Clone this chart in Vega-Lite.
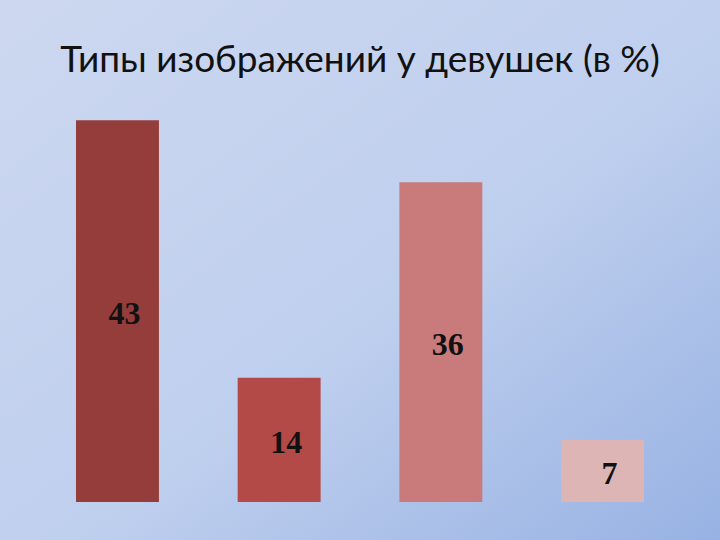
{
  "$schema": "https://vega.github.io/schema/vega-lite/v6.json",
  "width": 720,
  "height": 540,
  "autosize": "none",
  "padding": 0,
  "background": "#c9d5ee",
  "title": {
    "text": "Типы изображений у девушек (в %)",
    "font": "Lato",
    "fontSize": 37,
    "fontWeight": "normal",
    "color": "#111111",
    "anchor": "middle",
    "offset": -80
  },
  "data": {
    "values": [
      {"type": "1", "value": 43},
      {"type": "2", "value": 14},
      {"type": "3", "value": 36},
      {"type": "4", "value": 7}
    ]
  },
  "encoding": {
    "x": {
      "field": "type",
      "type": "nominal",
      "sort": null,
      "axis": null,
      "scale": {"paddingInner": 0.487, "paddingOuter": 0.47}
    }
  },
  "layer": [
    {
      "mark": {"type": "bar"},
      "encoding": {
        "y": {
          "field": "value",
          "type": "quantitative",
          "axis": null,
          "scale": {"domain": [-4.279, 56.53], "nice": false, "zero": false}
        },
        "y2": {"datum": 0},
        "color": {
          "field": "type",
          "type": "nominal",
          "legend": null,
          "scale": {
            "domain": ["1", "2", "3", "4"],
            "range": ["#953d3b", "#b34a48", "#c97b7b", "#ddb5b5"]
          }
        }
      }
    },
    {
      "mark": {
        "type": "text",
        "font": "Liberation Serif",
        "fontSize": 32,
        "fontWeight": "bold",
        "color": "#111111",
        "baseline": "middle",
        "align": "center",
        "dx": 7,
        "dy": 3
      },
      "encoding": {
        "y": {
          "field": "value",
          "type": "quantitative",
          "axis": null,
          "scale": {"domain": [-8.558, 113.06], "nice": false, "zero": false}
        },
        "text": {"field": "value", "type": "quantitative"}
      }
    }
  ],
  "resolve": {"scale": {"y": "independent"}},
  "config": {
    "view": {
      "stroke": null,
      "fill": {
        "gradient": "linear",
        "x1": 0,
        "y1": 0,
        "x2": 1,
        "y2": 1,
        "stops": [
          {"offset": 0, "color": "#cdd8f0"},
          {"offset": 0.55, "color": "#bfcfee"},
          {"offset": 1, "color": "#97b2e3"}
        ]
      }
    }
  }
}
